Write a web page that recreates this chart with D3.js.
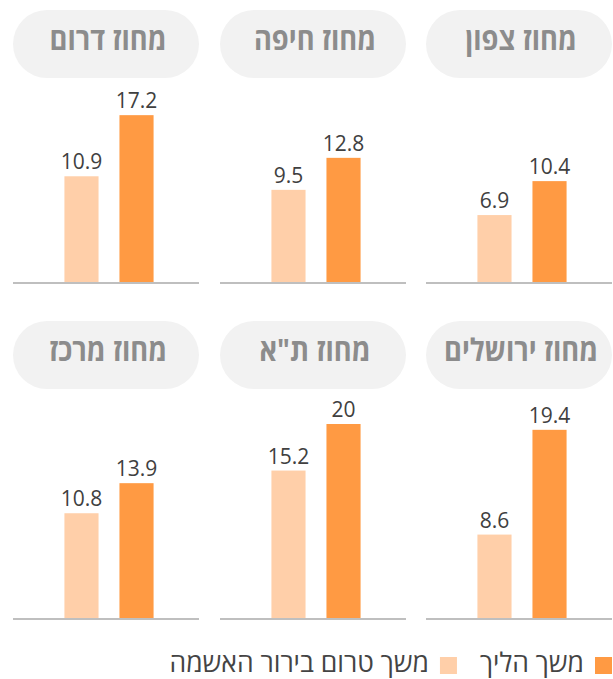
<!DOCTYPE html>
<html lang="he" dir="rtl">
<head>
<meta charset="utf-8">
<script src="https://cdn.jsdelivr.net/npm/d3@7"></script>
<style>
  html, body { margin: 0; padding: 0; background: #ffffff; }
  svg { display: block; font-family: "Open Sans", "DejaVu Sans", sans-serif; }
</style>
</head>
<body>
<svg id="chart" width="613" height="679"></svg>
<script>
// Districts, in reading order (right to left, top row first)
const districts = ["מחוז צפון", "מחוז חיפה", "מחוז דרום", "מחוז ירושלים", "מחוז ת\"א", "מחוז מרכז"];
// Duration before the indictment review
const preReview = [6.9, 9.5, 10.9, 8.6, 15.2, 10.8];
// Duration of the proceeding
const proceeding = [10.4, 12.8, 17.2, 19.4, 20, 13.9];

const seriesKeys = ["pre", "proc"];
const seriesNames = { pre: "משך טרום בירור האשמה", proc: "משך הליך" };
const seriesColors = { pre: "#ffcfa9", proc: "#ff9a43" };

const svg = d3.select("#chart");

// Panel grid: three columns, two rows, laid out right to left
const colX = [426, 220, 13];
const panelW = 186;
const rows = [
  { pillTop: 10, base: 282 },
  { pillTop: 321, base: 618 }
];

const x = d3.scaleBand()
  .domain(seriesKeys)
  .range([3, panelW + 3])
  .paddingInner(0.38)
  .paddingOuter(0.88);

const yMax = 20;
const yPix = 194;

districts.forEach((name, i) => {
  const row = rows[Math.floor(i / 3)];
  const x0 = colX[i % 3];
  const y = d3.scaleLinear().domain([0, yMax]).range([row.base, row.base - yPix]);
  const g = svg.append("g").attr("transform", `translate(${x0},0)`);

  // Title pill
  g.append("rect")
    .attr("x", 0).attr("y", row.pillTop)
    .attr("width", panelW).attr("height", 68)
    .attr("rx", 34).attr("ry", 34)
    .attr("fill", "#f2f2f2");
  // Condensed bold title: narrowed horizontally around the pill centre
  g.append("g")
    .attr("transform", `translate(${panelW / 2 + 2},${row.pillTop + 40}) scale(0.88,1)`)
    .append("text")
    .attr("x", 0).attr("y", 0)
    .attr("text-anchor", "middle")
    .attr("direction", "rtl")
    .attr("font-size", 31).attr("font-weight", 700)
    .attr("fill", "#8c8c8c")
    .text(name);

  const vals = { pre: preReview[i], proc: proceeding[i] };

  // Bars
  g.selectAll("rect.bar")
    .data(seriesKeys)
    .join("rect")
    .attr("class", "bar")
    .attr("x", k => x(k))
    .attr("width", x.bandwidth())
    .attr("y", k => y(vals[k]))
    .attr("height", k => y(0) - y(vals[k]))
    .attr("fill", k => seriesColors[k]);

  // Value labels
  g.selectAll("text.val")
    .data(seriesKeys)
    .join("text")
    .attr("class", "val")
    .attr("x", k => x(k) + x.bandwidth() / 2)
    .attr("y", k => y(vals[k]) - 7)
    .attr("text-anchor", "middle")
    .attr("direction", "ltr")
    .attr("font-size", 21)
    .attr("fill", "#404040")
    .text(k => d3.format("")(vals[k]));

  // Baseline
  g.append("line")
    .attr("x1", 0).attr("x2", panelW)
    .attr("y1", y(0) + 1).attr("y2", y(0) + 1)
    .attr("stroke", "#bfbfbf").attr("stroke-width", 2);
});

// Legend, right to left
const legend = svg.append("g");
let cursor = 612;
["proc", "pre"].forEach(k => {
  legend.append("rect")
    .attr("x", cursor - 17).attr("y", 657)
    .attr("width", 17).attr("height", 17)
    .attr("fill", seriesColors[k]);
  cursor -= 17 + 11;
  const t = legend.append("text")
    .attr("x", cursor).attr("y", 672)
    .attr("text-anchor", "end")
    .attr("direction", "ltr")
    .attr("font-size", 26.5)
    .attr("fill", "#444444")
    .text(seriesNames[k]);
  cursor -= t.node().getComputedTextLength() + 23;
});
</script>
</body>
</html>
